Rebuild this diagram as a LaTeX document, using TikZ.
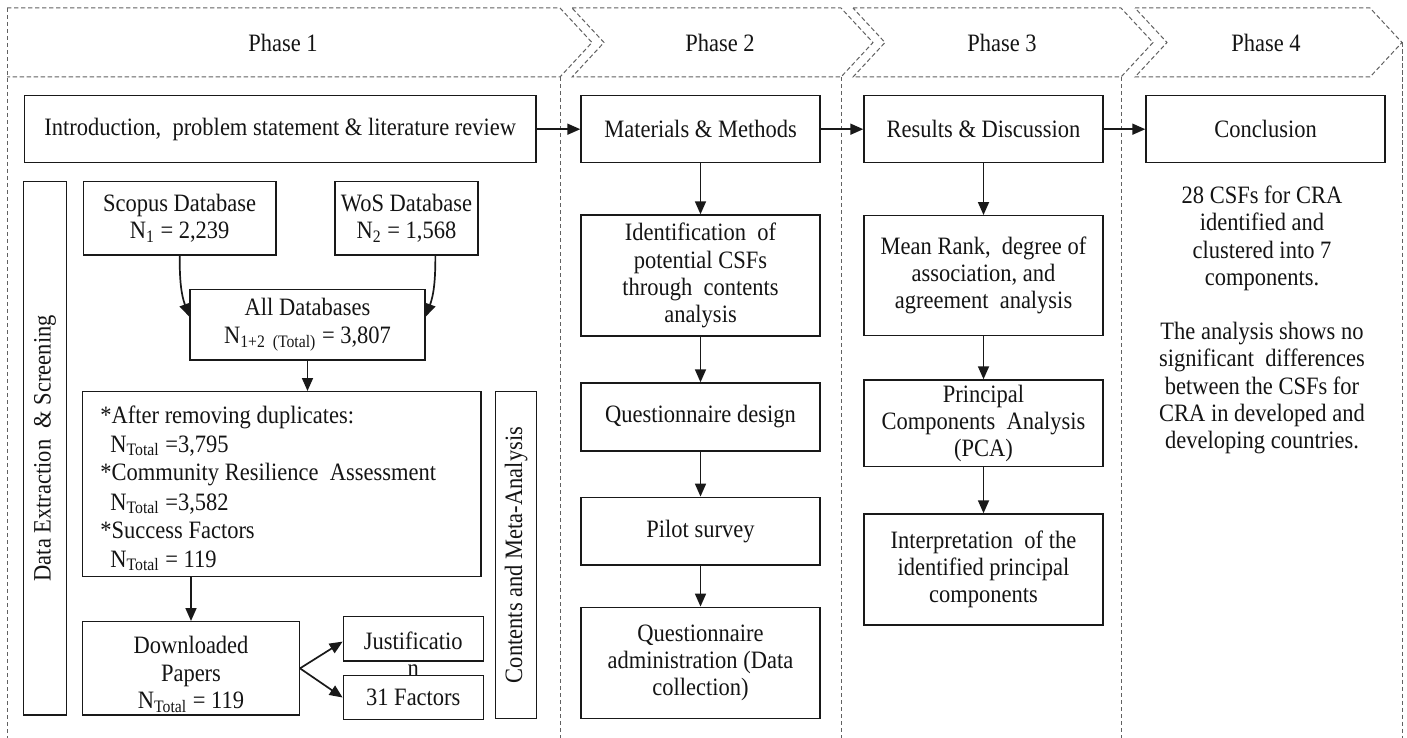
\documentclass[tikz,border=0pt]{standalone}
\usepackage{fontspec}
\setmainfont{Liberation Serif}[FakeStretch=0.9]
\usetikzlibrary{arrows.meta,calc}
\definecolor{boxline}{gray}{0.1}
\definecolor{dashgray}{gray}{0.38}
\definecolor{ink}{gray}{0.08}

% \flowbox[opts]{name}{x1}{y1}{x2}{y2}{text};  -- box given by two corners (px units)
\newcommand{\flowbox}[6][]{%
  \pgfmathsetmacro{\bxcx}{(#3+#5)/2}%
  \pgfmathsetmacro{\bxcy}{(#4+#6)/2}%
  \pgfmathsetmacro{\bxw}{(#5-#3)*0.5}%
  \pgfmathsetmacro{\bxh}{(#6-#4)*0.5}%
  \node[box, minimum width=\bxw pt, minimum height=\bxh pt, #1] (#2) at (\bxcx,\bxcy)}

\begin{document}
\begin{tikzpicture}[x=0.5pt,y=-0.5pt,
  font=\fontsize{12.5pt}{13.6pt}\selectfont,
  box/.style={draw=boxline, line width=0.7pt, inner sep=0pt, align=center, text=ink},
  phaseline/.style={draw=dashgray, line width=0.5pt, dash pattern=on 2.2pt off 1.3pt},
  flow/.style={-{Triangle[length=6.5pt,width=5.5pt]}, line width=0.85pt, draw=boxline},
  lbl/.style={text=ink, align=center, inner sep=0pt}]

\useasboundingbox (0,0) rectangle (1407,738);

% ---- phase banners and columns ----
\draw[phaseline] (7,8) -- (560,8) -- (592,42.5) -- (560,77) -- (7,77);
\draw[phaseline] (7,8) -- (7,738);
\draw[phaseline] (560,77) -- (560,738);
\draw[phaseline] (572,8) -- (841,8) -- (873,42.5) -- (841,77) -- (572,77) -- (604,42.5) -- cycle;
\draw[phaseline] (841,77) -- (841,738);
\draw[phaseline] (853,8) -- (1121,8) -- (1153,42.5) -- (1121,77) -- (853,77) -- (885,42.5) -- cycle;
\draw[phaseline] (1121,77) -- (1121,738);
\draw[phaseline] (1135,8) -- (1370,8) -- (1402,42.5) -- (1370,77) -- (1135,77) -- (1167,42.5) -- cycle;
\draw[phaseline] (1402,42.5) -- (1402,738);

\node[lbl] (ph1) at (283,42.5) {Phase 1};
\node[lbl] (ph2) at (720,42.5) {Phase 2};
\node[lbl] (ph3) at (1002,42.5) {Phase 3};
\node[lbl] (ph4) at (1266,42.5) {Phase 4};

% ---- top row ----
\flowbox{intro}{24.5}{95.7}{536}{162.7} {Introduction,~ problem statement \& literature review};
\flowbox{mat}{581}{95.7}{820}{162.7} {Materials \& Methods};
\flowbox{res}{864}{95.7}{1103}{162.7} {Results \& Discussion};
\flowbox{concl}{1146}{95.7}{1385}{162.7} {Conclusion};

\draw[flow] (intro.east) -- (mat.west);
\draw[flow] (mat.east) -- (res.west);
\draw[flow] (res.east) -- (concl.west);

% ---- phase 1: search and screening ----
\flowbox{extract}{23.5}{181.7}{66.7}{715} {};
\node[lbl, rotate=90] (extractlbl) at (extract.center) {Data Extraction~ \& Screening};

\flowbox{scopus}{83.3}{181.7}{276}{255} {Scopus Database\\N\textsubscript{1} = 2,239};
\flowbox{wos}{335}{181.7}{478}{255} {WoS Database\\N\textsubscript{2} = 1,568};
\flowbox{alldb}{190}{289.3}{425}{360} {All Databases\\N\textsubscript{1+2 ~(Total)} = 3,807};

\draw[flow] (scopus.south) to[out=-90,in=110] ($(alldb.north west)!0.39!(alldb.south west)$);
\draw[flow] ($(wos.south west)!0.70!(wos.south east)$) to[out=-90,in=70] ($(alldb.north east)!0.39!(alldb.south east)$);

\flowbox{screen}{82.7}{391.7}{481}{576.7} {};
\node[lbl, anchor=base west] (s1) at (100,423.7) {*After removing duplicates:};
\node[lbl, anchor=base west] (s2) at (110,452) {N\textsubscript{Total} =3,795};
\node[lbl, anchor=base west] (s3) at (100,480) {*Community Resilience~ Assessment};
\node[lbl, anchor=base west] (s4) at (110,510) {N\textsubscript{Total} =3,582};
\node[lbl, anchor=base west] (s5) at (100,538) {*Success Factors};
\node[lbl, anchor=base west] (s6) at (110,567) {N\textsubscript{Total} = 119};

\draw[flow] (alldb.south) -- (screen.north -| alldb.south);

\flowbox{papers}{82.7}{621.7}{299.3}{715} {};
\node[lbl] (paperslbl) at (191,674.5) {Downloaded\\Papers\\N\textsubscript{Total} = 119};
\draw[flow] (screen.south -| papers.north) -- (papers.north);

\flowbox{justif}{343.3}{616.7}{483.3}{661} {};
\node[lbl] (justiflbl) at (413.3,654.5) {Justificatio\\n};
\flowbox[fill=white]{factors}{343.3}{675.7}{483.3}{719.3} {31 Factors};

\draw[flow] (papers.east) -- ($(justif.north west)!0.56!(justif.south west)$);
\draw[flow] (papers.east) -- (factors.west);

\flowbox{meta}{495.7}{391.7}{536.7}{718.3} {};
\node[lbl, rotate=90] (metalbl) at (meta.center) {Contents and Meta-Analysis};

% ---- phase 2 ----
\flowbox{ident}{581}{215}{820}{336} {Identification~ of\\potential CSFs\\through~ contents\\analysis};
\flowbox{qdesign}{581}{383}{820}{451} {Questionnaire design};
\flowbox{pilot}{581}{497.3}{820}{565} {Pilot survey};
\flowbox{qadmin}{581}{607.3}{820}{718.3} {Questionnaire\\administration (Data\\collection)};

\draw[flow] (mat.south) -- (ident.north);
\draw[flow] (ident.south) -- (qdesign.north);
\draw[flow] (qdesign.south) -- (pilot.north);
\draw[flow] (pilot.south) -- (qadmin.north);

% ---- phase 3 ----
\flowbox{rank}{864}{215.7}{1103}{335.3} {Mean Rank,~ degree of\\association, and\\agreement~ analysis};
\flowbox{pca}{864}{380}{1103}{466.7} {Principal\\Components~ Analysis\\(PCA)};
\flowbox{interp}{864}{514}{1103}{625} {Interpretation~ of the\\identified principal\\components};

\draw[flow] (res.south) -- (rank.north);
\draw[flow] (rank.south) -- (pca.north);
\draw[flow] (pca.south) -- (interp.north);

% ---- phase 4 ----
\node[lbl] (summary) at (1262,320) {28 CSFs for CRA\\identified and\\clustered into 7\\components.\\[13.6pt]The analysis shows no\\significant~ differences\\between the CSFs for\\CRA in developed and\\developing countries.};

\end{tikzpicture}
\end{document}
